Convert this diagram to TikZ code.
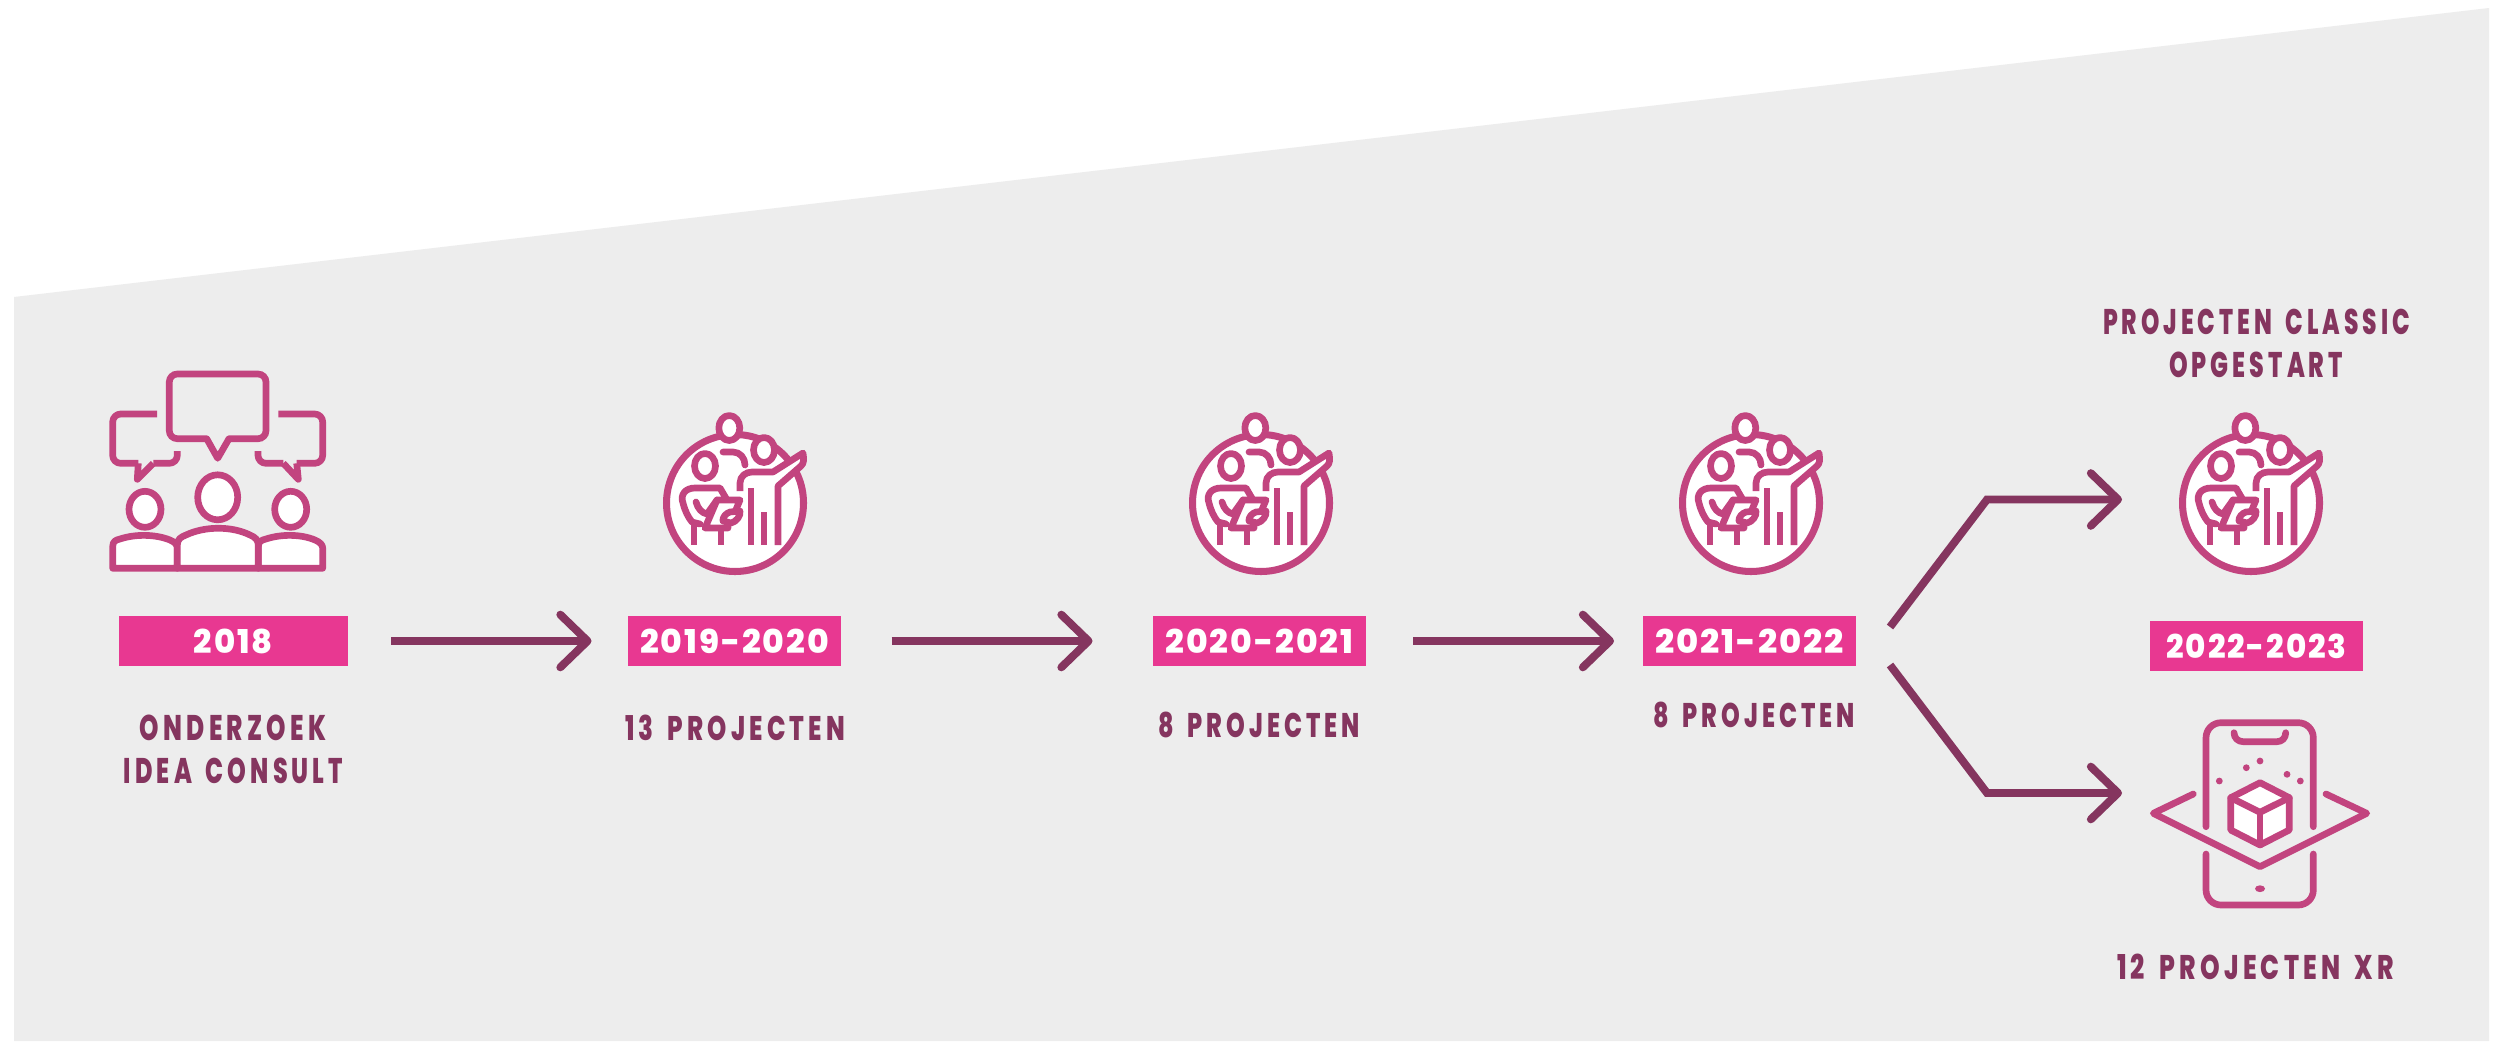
\documentclass[tikz,border=0pt]{standalone}
\usepackage{fontspec}
\usetikzlibrary{arrows.meta}
\newfontfamily\labfont[LetterSpace=17,WordSpace=1.6,BoldFont={Poppins ExtraBold}]{Poppins}
\newfontfamily\badgefont[LetterSpace=6,BoldFont={Poppins ExtraBold}]{Poppins}
\definecolor{bggrey}{HTML}{EDEDED}
\definecolor{iconpink}{HTML}{C2447F}
\definecolor{badgepink}{HTML}{E83891}
\definecolor{plum}{HTML}{85355F}
\newlength{\pxu}
\setlength{\pxu}{0.02cm}
\newcommand{\fitlab}[2]{\resizebox{#1\pxu}{25.5\pxu}{\labfont\bfseries #2}}
\newcommand{\fitbadge}[2]{\resizebox{#1\pxu}{24.5\pxu}{\badgefont\bfseries #2}}
\tikzset{
  badge/.style={fill=badgepink,text=white,minimum width=213*\pxu,minimum height=50*\pxu,inner sep=0pt,outer sep=0pt},
  lab/.style={text=plum,inner sep=0pt,outer sep=0pt},
  flow/.style={draw=plum,line width=4.5pt,line join=miter,-{Straight Barb[length=15.5pt,width=30pt,line width=4.5pt,round=false]}},
  ico/.style={draw=iconpink,line width=3.8pt,line join=round,line cap=round},
  team/.pic={
    \draw[ico,fill=white,line width=4pt] (0,0) circle (68.5);
    % right figure outline filled
    \fill[white] (17,-31) -- (38,-31) -- (68,-50) .. controls (69,-43) and (69,-40) .. (66,-37) -- (43,-17) -- (16,-17) -- cycle;
    \draw[ico,line cap=butt] (5,-12) -- (5,-20) .. controls (5,-27) and (11,-31) .. (17,-31) -- (38,-31) -- (68,-50) .. controls (69,-43) and (69,-40) .. (66,-37) -- (43,-17) -- (43,42);
    \draw[ico,line cap=butt] (16,-15) -- (16,42);
    \draw[ico,line cap=butt] (29,9) -- (29,42);
    % heads
    \draw[ico,fill=white] (-5.7,-75) ellipse (10.5 and 12.5);
    \draw[ico,fill=white] (29,-53) ellipse (10.5 and 12.5);
    \draw[ico,fill=white] (-30,-37) ellipse (10.5 and 12.5);
    % back figure shoulder
    \draw[ico] (-12,-51) -- (-2,-51) .. controls (5,-51) and (10,-45) .. (10,-38);
    % left figure
    \draw[ico] (-8,-3) -- (-15,-15) -- (-40,-15) .. controls (-50,-15) and (-55,-8) .. (-52,0) .. controls (-50,8) and (-47,14) .. (-43,19) -- (-35,21);
    \draw[ico,line cap=butt] (-41,19) -- (-41,42);
    \draw[ico,line cap=butt] (-14,27) -- (-14,42);
    \draw[ico] (-39,-1) .. controls (-37,6) and (-33,10) .. (-28,11) -- (-18,-3);
    \draw[ico,fill=white] (-18,-3) -- (5,-3) -- (0,9) -- (-7,12) -- (-7,25) -- (-30,25) -- cycle;
    \draw[ico,fill=white] (5,8) -- (-5,9) .. controls (-9,10) and (-13,15) .. (-12,18) -- (-4,20) .. controls (1,19) and (6,13) .. (5,8) -- cycle;
  },
  crowd/.pic={
    % speech bubbles
    \draw[ico,rounded corners=8*\pxu,line join=miter] (206.7,438.7) -- (169.3,438.7) -- (169.3,374) -- (266,374) -- (266,438.7) -- (229,438.7);
    \draw[ico,line cap=butt] (206.7,438.7) -- (217.7,458.3) -- (229,438.7);
    \draw[ico,line cap=butt,rounded corners=8*\pxu] (157,414) -- (112.7,414) -- (112.7,463.3) -- (138.3,463.3);
    \draw[ico,line cap=butt] (138.3,463.3) -- (137.3,479.3) -- (153.3,463.3);
    \draw[ico,line cap=butt,rounded corners=8*\pxu] (153.3,463.3) -- (177.3,463.3) -- (177.3,451);
    \draw[ico,line cap=butt,rounded corners=8*\pxu] (278.3,414) -- (322.7,414) -- (322.7,463.3) -- (296.7,463.3);
    \draw[ico,line cap=butt] (296.7,463.3) -- (298.3,479.3) -- (283.3,463.3);
    \draw[ico,line cap=butt,rounded corners=8*\pxu] (283.3,463.3) -- (258,463.3) -- (258,451);
    % heads
    \draw[ico,fill=white] (217.7,497.3) ellipse (20 and 22.5);
    \draw[ico,fill=white] (145,509.3) ellipse (16 and 18);
    \draw[ico,fill=white] (290.7,509.3) ellipse (16 and 18);
    % bodies
    \draw[ico,fill=white] (112.7,568.3) -- (112.7,546.7) .. controls (112.7,541) and (116,540) .. (120,539) .. controls (135,534) and (155,534) .. (170,540) .. controls (175,542) and (177.3,545) .. (177.3,548) -- (177.3,568.3) -- cycle;
    \draw[ico,fill=white] (258.3,568.3) -- (258.3,546.7) .. controls (258.3,541) and (262,540) .. (266,539) .. controls (281,534) and (301,534) .. (315,540) .. controls (320,542) and (322.7,545) .. (322.7,548) -- (322.7,568.3) -- cycle;
    \draw[ico,fill=white] (177.3,568.3) -- (177.3,545) .. controls (177.3,539) and (181,537) .. (186,535) .. controls (205,526) and (232,526) .. (250,535) .. controls (255,537) and (258.3,540) .. (258.3,545) -- (258.3,568.3) -- cycle;
  },
  xrphone/.pic={
    \draw[ico,rounded corners=15*\pxu] (2206,826.7) -- (2206,722.7) -- (2313.3,722.7) -- (2313.3,826.7);
    \draw[ico,rounded corners=15*\pxu] (2206,854) -- (2206,905) -- (2313.3,905) -- (2313.3,854);
    \draw[ico] (2234,732.7) .. controls (2234,738) and (2238,741.7) .. (2243.3,741.7) -- (2276.7,741.7) .. controls (2282,741.7) and (2285.7,738) .. (2285.7,732.7);
    \foreach \dx/\dy in {2260/761,2246.3/767.7,2219.3/781,2287/774.3,2300.3/781}
      \fill[iconpink] (\dx,\dy) circle (3.4);
    \fill[iconpink] (2260,888.7) ellipse (5 and 3.4);
    \draw[ico] (2193.3,794) -- (2153.3,813.3) -- (2260,866.7) -- (2366.7,813.3) -- (2326,794);
    \draw[ico,fill=white] (2260,782.7) -- (2289.3,797.7) -- (2289.3,830) -- (2260,845) -- (2230.7,830) -- (2230.7,797.7) -- cycle;
    \draw[ico] (2230.7,797.7) -- (2260,812.3) -- (2289.3,797.7);
    \draw[ico] (2260,812.3) -- (2260,845);
  }
}
\begin{document}
\begin{tikzpicture}[x=0.02cm,y=-0.02cm]
\useasboundingbox (0,0) rectangle (2500,1041);
\fill[white] (0,0) rectangle (2500,1041);
\fill[bggrey] (14,297) -- (2489,8) -- (2489,1041) -- (14,1041) -- cycle;

\pic at (0,0) {crowd};
\pic at (735,503) {team};
\pic at (1261,503) {team};
\pic at (1751,503) {team};
\pic at (2251,503) {team};
\pic at (0,0) {xrphone};

\node[badge,minimum width=229*\pxu] (b18) at (233.5,641) {\fitbadge{79}{2018}};
\node[badge] (b19) at (734.5,641) {\fitbadge{189}{2019-2020}};
\node[badge] (b20) at (1259.5,641) {\fitbadge{188}{2020-2021}};
\node[badge] (b21) at (1749.5,641) {\fitbadge{189}{2021-2022}};
\node[badge] (b22) at (2256.5,646) {\fitbadge{180}{2022-2023}};

\node[lab] (t18a) at (233,728) {\fitlab{186}{ONDERZOEK}};
\node[lab] (t18b) at (233.5,770.5) {\fitlab{219}{IDEA CONSULT}};
\node[lab] (t19) at (735,728) {\fitlab{220}{13 PROJECTEN}};
\node[lab] (t20) at (1259,724.5) {\fitlab{202}{8 PROJECTEN}};
\node[lab] (t21) at (1754,715) {\fitlab{202}{8 PROJECTEN}};
\node[lab] (t22a) at (2256.5,321.5) {\fitlab{307}{PROJECTEN CLASSIC}};
\node[lab] (t22b) at (2256,365) {\fitlab{174}{OPGESTART}};
\node[lab] (t22c) at (2255.5,966.5) {\fitlab{277}{12 PROJECTEN XR}};

\draw[flow,shorten <=43*\pxu,shorten >=36.5*\pxu] (b18.east) -- (b19.west);
\draw[flow,shorten <=50.5*\pxu,shorten >=60.5*\pxu] (b19.east) -- (b20.west);
\draw[flow,shorten <=47*\pxu,shorten >=29*\pxu] (b20.east) -- (b21.west);

\coordinate (upstart) at (1890,627);
\coordinate (upbend) at (1987,499.5);
\coordinate (uptip) at (2122,499.5);
\coordinate (lowstart) at (1890,665);
\coordinate (lowbend) at (1987,793);
\coordinate (lowtip) at (2122,793);
\draw[flow] (upstart) -- (upbend) -- (uptip);
\draw[flow] (lowstart) -- (lowbend) -- (lowtip);
\end{tikzpicture}
\end{document}
